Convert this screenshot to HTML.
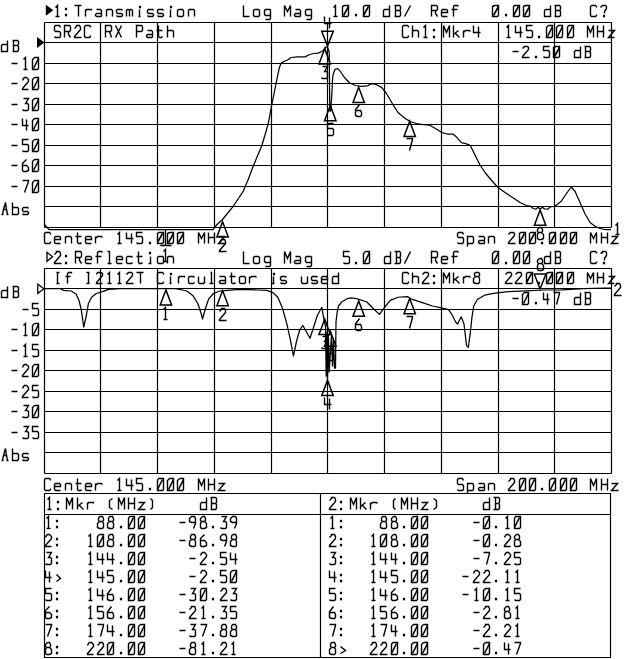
<!DOCTYPE html>
<html><head><meta charset="utf-8"><style>
html,body{margin:0;padding:0;background:#fff;}
svg{display:block;}
path{fill:none;stroke:#000;stroke-width:1.4;}
.g{stroke-width:1.2;}
.f{fill:#000;stroke:none;}
.o{fill:none;stroke:#000;stroke-width:1.3;}
.k{stroke-width:1.6;}
.m{fill:none;stroke:#000;stroke-width:1.5;}
.t{fill:none;stroke:#000;stroke-width:1.25;stroke-linejoin:round;}
</style></head><body>
<svg width="640" height="659" viewBox="0 0 640 659">
<rect width="640" height="659" fill="#fff"/>
<path class="g" d="M44.5,22.5 H611.5 M44.5,42.5 H611.5 M44.5,63.5 H611.5 M44.5,83.5 H611.5 M44.5,104.5 H611.5 M44.5,124.5 H611.5 M44.5,145.5 H611.5 M44.5,165.5 H611.5 M44.5,186.5 H611.5 M44.5,206.5 H611.5 M44.5,227.5 H611.5 M44.5,22.5 V227.5 M100.5,22.5 V227.5 M157.5,22.5 V227.5 M214.5,22.5 V227.5 M271.5,22.5 V227.5 M327.5,22.5 V227.5 M384.5,22.5 V227.5 M441.5,22.5 V227.5 M498.5,22.5 V227.5 M554.5,22.5 V227.5 M611.5,22.5 V227.5 "/>
<path class="g" d="M44.5,268.5 H611.5 M44.5,288.5 H611.5 M44.5,309.5 H611.5 M44.5,329.5 H611.5 M44.5,350.5 H611.5 M44.5,370.5 H611.5 M44.5,391.5 H611.5 M44.5,411.5 H611.5 M44.5,432.5 H611.5 M44.5,452.5 H611.5 M44.5,473.5 H611.5 M44.5,268.5 V473.5 M100.5,268.5 V473.5 M157.5,268.5 V473.5 M214.5,268.5 V473.5 M271.5,268.5 V473.5 M327.5,268.5 V473.5 M384.5,268.5 V473.5 M441.5,268.5 V473.5 M498.5,268.5 V473.5 M554.5,268.5 V473.5 M611.5,268.5 V473.5 "/>
<path d="M55.5,7.5 L57.5,5.5 L57.5,16.5 M55.5,16.5 L59.5,16.5 M74.5,5.5 L81.5,5.5 M78.5,5.5 L78.5,16.5 M85.5,9.5 L85.5,16.5 M85.5,11.5 L86.5,9.5 L91.5,9.5 L91.5,10.5 M96.5,9.5 L100.5,9.5 L101.5,10.5 L101.5,16.5 M101.5,13.5 L96.5,13.5 L95.5,14.5 L95.5,15.5 L96.5,16.5 L101.5,16.5 M106.5,9.5 L106.5,16.5 M106.5,10.5 L107.5,9.5 L111.5,9.5 L112.5,10.5 L112.5,16.5 M122.5,10.5 L121.5,9.5 L117.5,9.5 L116.5,10.5 L116.5,12.5 L117.5,13.5 L121.5,13.5 L122.5,14.5 L122.5,15.5 L121.5,16.5 L117.5,16.5 L116.5,15.5 M126.5,16.5 L126.5,9.5 M126.5,10.5 L127.5,9.5 L128.5,9.5 L129.5,10.5 L129.5,16.5 M129.5,10.5 L130.5,9.5 L131.5,9.5 L132.5,10.5 L132.5,16.5 M139.5,9.5 L139.5,16.5 M138.5,16.5 L140.5,16.5 M153.5,10.5 L152.5,9.5 L148.5,9.5 L147.5,10.5 L147.5,12.5 L148.5,13.5 L152.5,13.5 L153.5,14.5 L153.5,15.5 L152.5,16.5 L148.5,16.5 L147.5,15.5 M163.5,10.5 L162.5,9.5 L158.5,9.5 L157.5,10.5 L157.5,12.5 L158.5,13.5 L162.5,13.5 L163.5,14.5 L163.5,15.5 L162.5,16.5 L158.5,16.5 L157.5,15.5 M170.5,9.5 L170.5,16.5 M169.5,16.5 L171.5,16.5 M178.5,9.5 L182.5,9.5 L183.5,10.5 L183.5,15.5 L182.5,16.5 L178.5,16.5 L177.5,15.5 L177.5,10.5 L178.5,9.5 M188.5,9.5 L188.5,16.5 M188.5,10.5 L189.5,9.5 L193.5,9.5 L194.5,10.5 L194.5,16.5"/><rect class="f" x="64.9" y="7.8" width="2.2" height="2.5"/><rect class="f" x="64.9" y="13.8" width="2.2" height="2.5"/><rect class="f" x="138.9" y="5.8" width="2.2" height="2.5"/><rect class="f" x="169.9" y="5.8" width="2.2" height="2.5"/><path d="M243.5,5.5 L243.5,16.5 L249.5,16.5 M254.5,9.5 L258.5,9.5 L259.5,10.5 L259.5,15.5 L258.5,16.5 L254.5,16.5 L253.5,15.5 L253.5,10.5 L254.5,9.5 M270.5,9.5 L270.5,18.5 L269.5,19.5 L265.5,19.5 M270.5,9.5 L265.5,9.5 L264.5,10.5 L264.5,14.5 L265.5,15.5 L270.5,15.5 M284.5,16.5 L284.5,5.5 L287.5,11.5 L290.5,5.5 L290.5,16.5 M295.5,9.5 L299.5,9.5 L300.5,10.5 L300.5,16.5 M300.5,13.5 L295.5,13.5 L294.5,14.5 L294.5,15.5 L295.5,16.5 L300.5,16.5 M311.5,9.5 L311.5,18.5 L310.5,19.5 L306.5,19.5 M311.5,9.5 L306.5,9.5 L305.5,10.5 L305.5,14.5 L306.5,15.5 L311.5,15.5"/><path d="M333.5,7.5 L335.5,5.5 L335.5,16.5 M333.5,16.5 L337.5,16.5 M344.5,5.5 L348.5,5.5 L348.5,15.5 L347.5,16.5 L342.5,16.5 L342.5,6.5 L344.5,5.5 M364.5,5.5 L369.5,5.5 L369.5,15.5 L368.5,16.5 L363.5,16.5 L363.5,6.5 L364.5,5.5 M389.5,5.5 L389.5,16.5 L383.5,16.5 L383.5,10.5 L384.5,9.5 L389.5,9.5 M394.5,5.5 L399.5,5.5 L400.5,6.5 L400.5,9.5 L399.5,10.5 L395.5,10.5 M399.5,10.5 L400.5,11.5 L400.5,15.5 L399.5,16.5 L394.5,16.5 M395.5,5.5 L395.5,16.5 M404.5,16.5 L410.5,5.5"/><path class="k" d="M343.5,15.5 L348.5,6.5 M363.5,15.5 L368.5,6.5"/><rect class="f" x="354.9" y="13.8" width="2.2" height="2.5"/><path d="M431.5,16.5 L431.5,5.5 L436.5,5.5 L437.5,6.5 L437.5,9.5 L436.5,10.5 L431.5,10.5 M435.5,10.5 L435.5,13.5 L437.5,16.5 M441.5,12.5 L447.5,12.5 L447.5,10.5 L446.5,9.5 L442.5,9.5 L441.5,10.5 L441.5,15.5 L442.5,16.5 L447.5,16.5 M458.5,6.5 L457.5,5.5 L454.5,5.5 L453.5,6.5 L453.5,16.5 M451.5,9.5 L457.5,9.5 M494.5,5.5 L498.5,5.5 L498.5,15.5 L497.5,16.5 L492.5,16.5 L492.5,6.5 L494.5,5.5 M514.5,5.5 L519.5,5.5 L519.5,15.5 L518.5,16.5 L513.5,16.5 L513.5,6.5 L514.5,5.5 M525.5,5.5 L529.5,5.5 L529.5,15.5 L528.5,16.5 L523.5,16.5 L523.5,6.5 L525.5,5.5 M550.5,5.5 L550.5,16.5 L544.5,16.5 L544.5,10.5 L545.5,9.5 L550.5,9.5 M554.5,5.5 L559.5,5.5 L560.5,6.5 L560.5,9.5 L559.5,10.5 L555.5,10.5 M559.5,10.5 L560.5,11.5 L560.5,15.5 L559.5,16.5 L554.5,16.5 M555.5,5.5 L555.5,16.5"/><path class="k" d="M493.5,15.5 L498.5,6.5 M513.5,15.5 L518.5,6.5 M524.5,15.5 L529.5,6.5"/><rect class="f" x="504.9" y="13.8" width="2.2" height="2.5"/><path d="M596.5,7.5 L596.5,6.5 L595.5,5.5 L591.5,5.5 L590.5,6.5 L590.5,15.5 L591.5,16.5 L595.5,16.5 L596.5,15.5 L596.5,14.5 M600.5,7.5 L602.5,5.5 L602.5,5.5 L605.5,5.5 L606.5,6.5 L606.5,8.5 L604.5,11.5 L604.5,13.5"/><rect class="f" x="602.9" y="14.8" width="2.2" height="2.5"/>
<polygon class="f" points="45.8,4.8 45.8,15.8 53.3,10.3"/>
<path d="M54.5,254.5 L56.5,252.5 L56.5,251.5 L59.5,251.5 L60.5,253.5 L60.5,255.5 L54.5,262.5 L54.5,263.5 L61.5,263.5 M75.5,263.5 L75.5,251.5 L80.5,251.5 L81.5,252.5 L81.5,256.5 L80.5,257.5 L75.5,257.5 M79.5,257.5 L79.5,260.5 L81.5,263.5 M85.5,259.5 L91.5,259.5 L91.5,257.5 L90.5,256.5 L86.5,256.5 L85.5,257.5 L85.5,262.5 L86.5,263.5 L91.5,263.5 M102.5,252.5 L101.5,251.5 L98.5,251.5 L97.5,252.5 L97.5,263.5 M95.5,256.5 L101.5,256.5 M107.5,251.5 L109.5,251.5 L109.5,263.5 M107.5,263.5 L111.5,263.5 M116.5,259.5 L122.5,259.5 L122.5,257.5 L121.5,256.5 L117.5,256.5 L116.5,257.5 L116.5,262.5 L117.5,263.5 L122.5,263.5 M132.5,257.5 L131.5,256.5 L127.5,256.5 L126.5,257.5 L126.5,262.5 L127.5,263.5 L131.5,263.5 L132.5,262.5 M138.5,251.5 L138.5,262.5 L139.5,263.5 L141.5,263.5 L142.5,262.5 M136.5,256.5 L142.5,256.5 M150.5,256.5 L150.5,263.5 M148.5,263.5 L151.5,263.5 M158.5,256.5 L162.5,256.5 L163.5,257.5 L163.5,262.5 L162.5,263.5 L158.5,263.5 L157.5,262.5 L157.5,257.5 L158.5,256.5 M167.5,256.5 L167.5,263.5 M167.5,257.5 L168.5,256.5 L172.5,256.5 L173.5,257.5 L173.5,263.5"/><rect class="f" x="64.9" y="254.8" width="2.2" height="2.5"/><rect class="f" x="64.9" y="261.8" width="2.2" height="2.5"/><rect class="f" x="148.9" y="251.8" width="2.2" height="2.5"/><path d="M243.5,251.5 L243.5,263.5 L249.5,263.5 M254.5,256.5 L258.5,256.5 L259.5,257.5 L259.5,262.5 L258.5,263.5 L254.5,263.5 L253.5,262.5 L253.5,257.5 L254.5,256.5 M270.5,256.5 L270.5,265.5 L269.5,266.5 L265.5,266.5 M270.5,256.5 L265.5,256.5 L264.5,257.5 L264.5,261.5 L265.5,262.5 L270.5,262.5 M284.5,263.5 L284.5,251.5 L287.5,258.5 L290.5,251.5 L290.5,263.5 M295.5,256.5 L299.5,256.5 L300.5,257.5 L300.5,263.5 M300.5,260.5 L295.5,260.5 L294.5,261.5 L294.5,262.5 L295.5,263.5 L300.5,263.5 M311.5,256.5 L311.5,265.5 L310.5,266.5 L306.5,266.5 M311.5,256.5 L306.5,256.5 L305.5,257.5 L305.5,261.5 L306.5,262.5 L311.5,262.5"/><path d="M349.5,251.5 L343.5,251.5 L343.5,256.5 L348.5,256.5 L349.5,257.5 L349.5,262.5 L348.5,263.5 L344.5,263.5 L343.5,262.5 M365.5,251.5 L369.5,251.5 L369.5,262.5 L368.5,263.5 L363.5,263.5 L363.5,253.5 L365.5,251.5 M390.5,251.5 L390.5,263.5 L384.5,263.5 L384.5,257.5 L385.5,256.5 L390.5,256.5 M394.5,251.5 L399.5,251.5 L400.5,252.5 L400.5,256.5 L399.5,257.5 L396.5,257.5 M399.5,257.5 L400.5,258.5 L400.5,262.5 L399.5,263.5 L394.5,263.5 M396.5,251.5 L396.5,263.5 M404.5,263.5 L410.5,251.5"/><path class="k" d="M364.5,262.5 L369.5,252.5"/><rect class="f" x="354.9" y="261.8" width="2.2" height="2.5"/><path d="M431.5,263.5 L431.5,251.5 L436.5,251.5 L437.5,252.5 L437.5,256.5 L436.5,257.5 L431.5,257.5 M435.5,257.5 L435.5,260.5 L437.5,263.5 M441.5,259.5 L447.5,259.5 L447.5,257.5 L446.5,256.5 L442.5,256.5 L441.5,257.5 L441.5,262.5 L442.5,263.5 L447.5,263.5 M458.5,252.5 L457.5,251.5 L454.5,251.5 L453.5,252.5 L453.5,263.5 M451.5,256.5 L457.5,256.5 M494.5,251.5 L498.5,251.5 L498.5,262.5 L497.5,263.5 L492.5,263.5 L492.5,253.5 L494.5,251.5 M514.5,251.5 L519.5,251.5 L519.5,262.5 L518.5,263.5 L513.5,263.5 L513.5,253.5 L514.5,251.5 M525.5,251.5 L529.5,251.5 L529.5,262.5 L528.5,263.5 L523.5,263.5 L523.5,253.5 L525.5,251.5 M550.5,251.5 L550.5,263.5 L544.5,263.5 L544.5,257.5 L545.5,256.5 L550.5,256.5 M554.5,251.5 L559.5,251.5 L560.5,252.5 L560.5,256.5 L559.5,257.5 L555.5,257.5 M559.5,257.5 L560.5,258.5 L560.5,262.5 L559.5,263.5 L554.5,263.5 M555.5,251.5 L555.5,263.5"/><path class="k" d="M493.5,262.5 L498.5,252.5 M513.5,262.5 L518.5,252.5 M524.5,262.5 L529.5,252.5"/><rect class="f" x="504.9" y="261.8" width="2.2" height="2.5"/><path d="M596.5,253.5 L596.5,252.5 L595.5,251.5 L591.5,251.5 L590.5,252.5 L590.5,262.5 L591.5,263.5 L595.5,263.5 L596.5,262.5 L596.5,261.5 M600.5,253.5 L602.5,252.5 L602.5,251.5 L605.5,251.5 L606.5,252.5 L606.5,255.5 L604.5,258.5 L604.5,260.5"/><rect class="f" x="602.9" y="261.8" width="2.2" height="2.5"/>
<polygon class="o" points="47,252.3 47,261.3 52.5,256.8"/>
<path d="M60.5,27.5 L59.5,25.5 L55.5,25.5 L54.5,26.5 L54.5,30.5 L55.5,31.5 L59.5,31.5 L60.5,32.5 L60.5,36.5 L59.5,37.5 L55.5,37.5 L54.5,36.5 M64.5,37.5 L64.5,25.5 L69.5,25.5 L70.5,26.5 L70.5,30.5 L69.5,31.5 L64.5,31.5 M68.5,31.5 L68.5,34.5 L70.5,37.5 M74.5,28.5 L76.5,26.5 L76.5,25.5 L79.5,25.5 L80.5,27.5 L80.5,29.5 L74.5,36.5 L74.5,37.5 L81.5,37.5 M90.5,27.5 L90.5,26.5 L89.5,25.5 L85.5,25.5 L84.5,26.5 L84.5,36.5 L85.5,37.5 L89.5,37.5 L90.5,36.5 L90.5,35.5 M105.5,37.5 L105.5,25.5 L110.5,25.5 L111.5,26.5 L111.5,30.5 L110.5,31.5 L105.5,31.5 M109.5,31.5 L110.5,34.5 L111.5,37.5 M115.5,25.5 L121.5,37.5 M121.5,25.5 L115.5,37.5 M136.5,37.5 L136.5,25.5 L141.5,25.5 L142.5,26.5 L142.5,30.5 L141.5,31.5 L136.5,31.5 M147.5,30.5 L151.5,30.5 L152.5,31.5 L152.5,37.5 M152.5,34.5 L147.5,34.5 L146.5,35.5 L146.5,36.5 L147.5,37.5 L152.5,37.5 M158.5,25.5 L158.5,36.5 L159.5,37.5 L161.5,37.5 L162.5,36.5 M156.5,30.5 L162.5,30.5 M167.5,25.5 L167.5,37.5 M167.5,31.5 L168.5,30.5 L172.5,30.5 L173.5,31.5 L173.5,37.5"/>
<path d="M408.5,27.5 L408.5,26.5 L407.5,25.5 L403.5,25.5 L402.5,26.5 L402.5,36.5 L403.5,37.5 L407.5,37.5 L408.5,36.5 L408.5,35.5 M412.5,25.5 L412.5,37.5 M412.5,31.5 L413.5,30.5 L417.5,30.5 L418.5,31.5 L418.5,37.5 M423.5,27.5 L425.5,25.5 L425.5,37.5 M423.5,37.5 L427.5,37.5 M443.5,37.5 L443.5,25.5 L446.5,32.5 L449.5,25.5 L449.5,37.5 M453.5,25.5 L453.5,37.5 M458.5,30.5 L453.5,34.5 M455.5,33.5 L459.5,37.5 M463.5,30.5 L463.5,37.5 M463.5,32.5 L465.5,30.5 L469.5,30.5 L470.5,31.5 M473.5,25.5 L473.5,32.5 L480.5,32.5 M478.5,26.5 L478.5,37.5"/><rect class="f" x="432.9" y="28.8" width="2.2" height="2.5"/><rect class="f" x="432.9" y="35.8" width="2.2" height="2.5"/>
<path d="M506.5,27.5 L508.5,25.5 L508.5,37.5 M506.5,37.5 L510.5,37.5 M515.5,25.5 L515.5,32.5 L522.5,32.5 M520.5,26.5 L520.5,37.5 M532.5,25.5 L526.5,25.5 L526.5,30.5 L531.5,30.5 L532.5,31.5 L532.5,36.5 L531.5,37.5 L527.5,37.5 L526.5,36.5 M548.5,25.5 L552.5,25.5 L552.5,36.5 L551.5,37.5 L546.5,37.5 L546.5,27.5 L548.5,25.5 M558.5,25.5 L562.5,25.5 L562.5,36.5 L561.5,37.5 L556.5,37.5 L556.5,27.5 L558.5,25.5 M568.5,25.5 L573.5,25.5 L573.5,36.5 L572.5,37.5 L567.5,37.5 L567.5,27.5 L568.5,25.5 M587.5,37.5 L587.5,25.5 L590.5,32.5 L593.5,25.5 L593.5,37.5 M597.5,25.5 L597.5,37.5 M603.5,25.5 L603.5,37.5 M597.5,31.5 L603.5,31.5 M608.5,30.5 L614.5,30.5 L608.5,37.5 L614.5,37.5"/><path class="k" d="M547.5,36.5 L552.5,26.5 M557.5,36.5 L562.5,26.5 M567.5,36.5 L572.5,26.5"/><rect class="f" x="537.9" y="35.8" width="2.2" height="2.5"/>
<path d="M512.5,51.5 L518.5,51.5 M522.5,48.5 L524.5,46.5 L524.5,46.5 L527.5,46.5 L528.5,47.5 L528.5,49.5 L522.5,56.5 L522.5,57.5 L529.5,57.5 M549.5,46.5 L543.5,46.5 L543.5,50.5 L548.5,50.5 L549.5,51.5 L549.5,56.5 L548.5,57.5 L544.5,57.5 L543.5,56.5 M555.5,46.5 L559.5,46.5 L559.5,56.5 L558.5,57.5 L553.5,57.5 L553.5,47.5 L555.5,46.5 M580.5,46.5 L580.5,57.5 L574.5,57.5 L574.5,51.5 L575.5,50.5 L580.5,50.5 M584.5,46.5 L589.5,46.5 L590.5,47.5 L590.5,50.5 L589.5,51.5 L585.5,51.5 M589.5,51.5 L590.5,52.5 L590.5,56.5 L589.5,57.5 L584.5,57.5 M585.5,46.5 L585.5,57.5"/><path class="k" d="M554.5,56.5 L559.5,47.5"/><rect class="f" x="534.9" y="55.8" width="2.2" height="2.5"/>
<path d="M56.5,272.5 L59.5,272.5 M57.5,272.5 L57.5,283.5 M56.5,283.5 L59.5,283.5 M71.5,273.5 L71.5,272.5 L68.5,272.5 L67.5,273.5 L67.5,283.5 M65.5,276.5 L70.5,276.5 M86.5,272.5 L89.5,272.5 M88.5,272.5 L88.5,283.5 M86.5,283.5 L89.5,283.5 M96.5,274.5 L97.5,272.5 L98.5,272.5 L100.5,272.5 L102.5,273.5 L102.5,275.5 L96.5,282.5 L96.5,283.5 L102.5,283.5 M107.5,274.5 L109.5,272.5 L109.5,283.5 M107.5,283.5 L111.5,283.5 M117.5,274.5 L119.5,272.5 L119.5,283.5 M117.5,283.5 L121.5,283.5 M126.5,274.5 L128.5,272.5 L128.5,272.5 L131.5,272.5 L132.5,273.5 L132.5,275.5 L126.5,282.5 L126.5,283.5 L133.5,283.5 M136.5,272.5 L143.5,272.5 M140.5,272.5 L140.5,283.5 M163.5,274.5 L163.5,273.5 L162.5,272.5 L158.5,272.5 L157.5,273.5 L157.5,282.5 L158.5,283.5 L162.5,283.5 L163.5,282.5 L163.5,281.5 M170.5,276.5 L170.5,283.5 M169.5,283.5 L171.5,283.5 M178.5,276.5 L178.5,283.5 M178.5,278.5 L179.5,276.5 L184.5,276.5 L184.5,277.5 M194.5,277.5 L193.5,276.5 L189.5,276.5 L188.5,277.5 L188.5,282.5 L189.5,283.5 L193.5,283.5 L194.5,282.5 M198.5,276.5 L198.5,282.5 L199.5,283.5 L203.5,283.5 L204.5,282.5 M204.5,276.5 L204.5,283.5 M210.5,272.5 L211.5,272.5 L211.5,283.5 M209.5,283.5 L213.5,283.5 M219.5,276.5 L224.5,276.5 L225.5,277.5 L225.5,283.5 M225.5,280.5 L220.5,280.5 L219.5,281.5 L219.5,282.5 L220.5,283.5 L225.5,283.5 M231.5,272.5 L231.5,282.5 L232.5,283.5 L234.5,283.5 L235.5,282.5 M229.5,276.5 L235.5,276.5 M240.5,276.5 L244.5,276.5 L245.5,277.5 L245.5,282.5 L244.5,283.5 L240.5,283.5 L239.5,282.5 L239.5,277.5 L240.5,276.5 M249.5,276.5 L249.5,283.5 M249.5,278.5 L251.5,276.5 L255.5,276.5 L256.5,277.5 M273.5,276.5 L273.5,283.5 M271.5,283.5 L274.5,283.5 M286.5,277.5 L285.5,276.5 L281.5,276.5 L280.5,277.5 L280.5,279.5 L281.5,280.5 L285.5,280.5 L286.5,281.5 L286.5,282.5 L285.5,283.5 L281.5,283.5 L280.5,282.5 M301.5,276.5 L301.5,282.5 L302.5,283.5 L306.5,283.5 L307.5,282.5 M307.5,276.5 L307.5,283.5 M317.5,277.5 L316.5,276.5 L312.5,276.5 L311.5,277.5 L311.5,279.5 L312.5,280.5 L316.5,280.5 L317.5,281.5 L317.5,282.5 L316.5,283.5 L312.5,283.5 L311.5,282.5 M321.5,279.5 L327.5,279.5 L327.5,277.5 L326.5,276.5 L322.5,276.5 L321.5,277.5 L321.5,282.5 L322.5,283.5 L327.5,283.5 M338.5,272.5 L338.5,283.5 L332.5,283.5 L332.5,277.5 L333.5,276.5 L338.5,276.5"/><rect class="f" x="169.9" y="272.8" width="2.2" height="2.5"/><rect class="f" x="272.9" y="272.8" width="2.2" height="2.5"/>
<path d="M408.5,274.5 L408.5,273.5 L407.5,272.5 L403.5,272.5 L402.5,273.5 L402.5,282.5 L403.5,283.5 L407.5,283.5 L408.5,282.5 L408.5,281.5 M412.5,272.5 L412.5,283.5 M412.5,277.5 L413.5,276.5 L417.5,276.5 L418.5,277.5 L418.5,283.5 M422.5,274.5 L424.5,272.5 L424.5,272.5 L427.5,272.5 L428.5,273.5 L428.5,275.5 L422.5,282.5 L422.5,283.5 L429.5,283.5 M443.5,283.5 L443.5,272.5 L446.5,278.5 L449.5,272.5 L449.5,283.5 M453.5,272.5 L453.5,283.5 M458.5,276.5 L453.5,280.5 M455.5,279.5 L459.5,283.5 M463.5,276.5 L463.5,283.5 M463.5,278.5 L465.5,276.5 L469.5,276.5 L470.5,277.5 M475.5,272.5 L478.5,272.5 L479.5,273.5 L479.5,275.5 L478.5,276.5 L475.5,276.5 L474.5,275.5 L474.5,273.5 L475.5,272.5 M475.5,276.5 L473.5,278.5 L473.5,282.5 L475.5,283.5 L478.5,283.5 L479.5,282.5 L479.5,278.5 L478.5,276.5"/><rect class="f" x="432.9" y="274.8" width="2.2" height="2.5"/><rect class="f" x="432.9" y="281.8" width="2.2" height="2.5"/>
<path d="M505.5,274.5 L507.5,272.5 L507.5,272.5 L510.5,272.5 L511.5,273.5 L511.5,275.5 L505.5,282.5 L505.5,283.5 L512.5,283.5 M515.5,274.5 L517.5,272.5 L517.5,272.5 L520.5,272.5 L521.5,273.5 L521.5,275.5 L515.5,282.5 L515.5,283.5 L522.5,283.5 M527.5,272.5 L532.5,272.5 L532.5,282.5 L531.5,283.5 L526.5,283.5 L526.5,273.5 L527.5,272.5 M548.5,272.5 L552.5,272.5 L552.5,282.5 L551.5,283.5 L546.5,283.5 L546.5,273.5 L548.5,272.5 M558.5,272.5 L562.5,272.5 L562.5,282.5 L561.5,283.5 L556.5,283.5 L556.5,273.5 L558.5,272.5 M568.5,272.5 L573.5,272.5 L573.5,282.5 L572.5,283.5 L567.5,283.5 L567.5,273.5 L568.5,272.5 M587.5,283.5 L587.5,272.5 L590.5,278.5 L593.5,272.5 L593.5,283.5 M597.5,272.5 L597.5,283.5 M603.5,272.5 L603.5,283.5 M597.5,277.5 L603.5,277.5 M608.5,276.5 L614.5,276.5 L608.5,283.5 L614.5,283.5"/><path class="k" d="M526.5,282.5 L531.5,273.5 M547.5,282.5 L552.5,273.5 M557.5,282.5 L562.5,273.5 M567.5,282.5 L572.5,273.5"/><rect class="f" x="537.9" y="281.8" width="2.2" height="2.5"/>
<path d="M512.5,298.5 L518.5,298.5 M524.5,292.5 L528.5,292.5 L528.5,303.5 L527.5,304.5 L522.5,304.5 L522.5,294.5 L524.5,292.5 M543.5,292.5 L543.5,299.5 L549.5,299.5 M547.5,293.5 L547.5,304.5 M553.5,292.5 L559.5,292.5 L559.5,293.5 L556.5,304.5 M580.5,292.5 L580.5,304.5 L574.5,304.5 L574.5,298.5 L575.5,297.5 L580.5,297.5 M584.5,292.5 L589.5,292.5 L590.5,293.5 L590.5,297.5 L589.5,298.5 L585.5,298.5 M589.5,298.5 L590.5,299.5 L590.5,303.5 L589.5,304.5 L584.5,304.5 M585.5,292.5 L585.5,304.5"/><path class="k" d="M523.5,303.5 L528.5,293.5"/><rect class="f" x="534.9" y="301.8" width="2.2" height="2.5"/>
<path d="M7.5,40.5 L7.5,51.5 L1.5,51.5 L1.5,45.5 L2.5,44.5 L7.5,44.5 M12.5,40.5 L17.5,40.5 L18.5,41.5 L18.5,44.5 L17.5,45.5 L13.5,45.5 M17.5,45.5 L18.5,46.5 L18.5,50.5 L17.5,51.5 L12.5,51.5 M13.5,40.5 L13.5,51.5"/>
<path d="M11.5,63.5 L17.5,63.5 M23.5,59.5 L25.5,57.5 L25.5,69.5 M23.5,69.5 L27.5,69.5 M34.5,57.5 L38.5,57.5 L38.5,68.5 L37.5,69.5 L32.5,69.5 L32.5,59.5 L34.5,57.5"/><path class="k" d="M33.5,68.5 L38.5,58.5"/>
<path d="M11.5,83.5 L17.5,83.5 M22.5,80.5 L23.5,78.5 L24.5,77.5 L26.5,77.5 L28.5,79.5 L28.5,81.5 L22.5,88.5 L22.5,89.5 L28.5,89.5 M34.5,77.5 L38.5,77.5 L38.5,88.5 L37.5,89.5 L32.5,89.5 L32.5,79.5 L34.5,77.5"/><path class="k" d="M33.5,88.5 L38.5,78.5"/>
<path d="M11.5,104.5 L17.5,104.5 M23.5,98.5 L28.5,98.5 L25.5,103.5 L27.5,103.5 L28.5,104.5 L28.5,109.5 L27.5,110.5 L23.5,110.5 L22.5,109.5 M34.5,98.5 L38.5,98.5 L38.5,109.5 L37.5,110.5 L32.5,110.5 L32.5,100.5 L34.5,98.5"/><path class="k" d="M33.5,109.5 L38.5,99.5"/>
<path d="M11.5,124.5 L17.5,124.5 M22.5,118.5 L22.5,125.5 L28.5,125.5 M26.5,119.5 L26.5,130.5 M34.5,118.5 L38.5,118.5 L38.5,129.5 L37.5,130.5 L32.5,130.5 L32.5,120.5 L34.5,118.5"/><path class="k" d="M33.5,129.5 L38.5,119.5"/>
<path d="M11.5,145.5 L17.5,145.5 M28.5,139.5 L22.5,139.5 L22.5,144.5 L27.5,144.5 L28.5,145.5 L28.5,150.5 L27.5,151.5 L23.5,151.5 L22.5,150.5 M34.5,139.5 L38.5,139.5 L38.5,150.5 L37.5,151.5 L32.5,151.5 L32.5,141.5 L34.5,139.5"/><path class="k" d="M33.5,150.5 L38.5,140.5"/>
<path d="M11.5,165.5 L17.5,165.5 M26.5,159.5 L22.5,163.5 L22.5,164.5 L22.5,170.5 L23.5,171.5 L26.5,171.5 L28.5,170.5 L28.5,167.5 L26.5,165.5 L22.5,165.5 M34.5,159.5 L38.5,159.5 L38.5,170.5 L37.5,171.5 L32.5,171.5 L32.5,161.5 L34.5,159.5"/><path class="k" d="M33.5,170.5 L38.5,160.5"/>
<path d="M11.5,186.5 L17.5,186.5 M22.5,180.5 L28.5,180.5 L28.5,181.5 L24.5,192.5 M34.5,180.5 L38.5,180.5 L38.5,191.5 L37.5,192.5 L32.5,192.5 L32.5,182.5 L34.5,180.5"/><path class="k" d="M33.5,191.5 L38.5,181.5"/>
<path d="M2.5,214.5 L3.5,209.5 L5.5,202.5 L6.5,209.5 L7.5,214.5 M3.5,209.5 L6.5,209.5 M1.5,214.5 L3.5,214.5 M6.5,214.5 L8.5,214.5 M12.5,202.5 L12.5,214.5 L17.5,214.5 L18.5,213.5 L18.5,208.5 L17.5,207.5 L12.5,207.5 M28.5,208.5 L27.5,207.5 L23.5,207.5 L22.5,208.5 L22.5,210.5 L23.5,211.5 L27.5,211.5 L28.5,212.5 L28.5,213.5 L27.5,214.5 L23.5,214.5 L22.5,213.5"/>
<polygon class="f" points="37,37 37,48 44.5,42.5"/>
<path d="M7.5,286.5 L7.5,297.5 L1.5,297.5 L1.5,291.5 L2.5,290.5 L7.5,290.5 M12.5,286.5 L17.5,286.5 L18.5,287.5 L18.5,290.5 L17.5,291.5 L13.5,291.5 M17.5,291.5 L18.5,292.5 L18.5,296.5 L17.5,297.5 L12.5,297.5 M13.5,286.5 L13.5,297.5"/>
<path d="M22.5,309.5 L28.5,309.5 M38.5,303.5 L32.5,303.5 L32.5,308.5 L37.5,308.5 L38.5,309.5 L38.5,314.5 L37.5,315.5 L33.5,315.5 L32.5,314.5"/>
<path d="M11.5,329.5 L17.5,329.5 M23.5,325.5 L25.5,323.5 L25.5,335.5 M23.5,335.5 L27.5,335.5 M34.5,323.5 L38.5,323.5 L38.5,334.5 L37.5,335.5 L32.5,335.5 L32.5,325.5 L34.5,323.5"/><path class="k" d="M33.5,334.5 L38.5,324.5"/>
<path d="M11.5,350.5 L17.5,350.5 M23.5,346.5 L25.5,344.5 L25.5,356.5 M23.5,356.5 L27.5,356.5 M38.5,344.5 L32.5,344.5 L32.5,349.5 L37.5,349.5 L38.5,350.5 L38.5,355.5 L37.5,356.5 L33.5,356.5 L32.5,355.5"/>
<path d="M11.5,370.5 L17.5,370.5 M22.5,367.5 L23.5,365.5 L24.5,364.5 L26.5,364.5 L28.5,366.5 L28.5,368.5 L22.5,375.5 L22.5,376.5 L28.5,376.5 M34.5,364.5 L38.5,364.5 L38.5,375.5 L37.5,376.5 L32.5,376.5 L32.5,366.5 L34.5,364.5"/><path class="k" d="M33.5,375.5 L38.5,365.5"/>
<path d="M11.5,391.5 L17.5,391.5 M22.5,388.5 L23.5,386.5 L24.5,385.5 L26.5,385.5 L28.5,387.5 L28.5,389.5 L22.5,396.5 L22.5,397.5 L28.5,397.5 M38.5,385.5 L32.5,385.5 L32.5,390.5 L37.5,390.5 L38.5,391.5 L38.5,396.5 L37.5,397.5 L33.5,397.5 L32.5,396.5"/>
<path d="M11.5,411.5 L17.5,411.5 M23.5,405.5 L28.5,405.5 L25.5,410.5 L27.5,410.5 L28.5,411.5 L28.5,416.5 L27.5,417.5 L23.5,417.5 L22.5,416.5 M34.5,405.5 L38.5,405.5 L38.5,416.5 L37.5,417.5 L32.5,417.5 L32.5,407.5 L34.5,405.5"/><path class="k" d="M33.5,416.5 L38.5,406.5"/>
<path d="M11.5,432.5 L17.5,432.5 M23.5,426.5 L28.5,426.5 L25.5,431.5 L27.5,431.5 L28.5,432.5 L28.5,437.5 L27.5,438.5 L23.5,438.5 L22.5,437.5 M38.5,426.5 L32.5,426.5 L32.5,431.5 L37.5,431.5 L38.5,432.5 L38.5,437.5 L37.5,438.5 L33.5,438.5 L32.5,437.5"/>
<path d="M2.5,460.5 L3.5,455.5 L5.5,448.5 L6.5,455.5 L7.5,460.5 M3.5,455.5 L6.5,455.5 M1.5,460.5 L3.5,460.5 M6.5,460.5 L8.5,460.5 M12.5,448.5 L12.5,460.5 L17.5,460.5 L18.5,459.5 L18.5,454.5 L17.5,453.5 L12.5,453.5 M28.5,454.5 L27.5,453.5 L23.5,453.5 L22.5,454.5 L22.5,456.5 L23.5,457.5 L27.5,457.5 L28.5,458.5 L28.5,459.5 L27.5,460.5 L23.5,460.5 L22.5,459.5"/>
<polygon class="o" points="37.8,284 37.8,293.5 43.8,288.75"/>
<path d="M50.5,234.5 L50.5,233.5 L49.5,232.5 L45.5,232.5 L44.5,233.5 L44.5,242.5 L45.5,243.5 L49.5,243.5 L50.5,242.5 L50.5,241.5 M54.5,239.5 L60.5,239.5 L60.5,237.5 L59.5,236.5 L55.5,236.5 L54.5,237.5 L54.5,242.5 L55.5,243.5 L60.5,243.5 M65.5,236.5 L65.5,243.5 M65.5,237.5 L66.5,236.5 L70.5,236.5 L71.5,237.5 L71.5,243.5 M77.5,232.5 L77.5,242.5 L78.5,243.5 L80.5,243.5 L81.5,242.5 M75.5,236.5 L81.5,236.5 M85.5,239.5 L91.5,239.5 L91.5,237.5 L90.5,236.5 L86.5,236.5 L85.5,237.5 L85.5,242.5 L86.5,243.5 L91.5,243.5 M95.5,236.5 L95.5,243.5 M95.5,238.5 L97.5,236.5 L101.5,236.5 L102.5,237.5 M117.5,234.5 L119.5,232.5 L119.5,243.5 M117.5,243.5 L121.5,243.5 M126.5,232.5 L126.5,238.5 L133.5,238.5 M131.5,233.5 L131.5,243.5 M142.5,232.5 L136.5,232.5 L136.5,236.5 L141.5,236.5 L142.5,237.5 L142.5,242.5 L141.5,243.5 L137.5,243.5 L136.5,242.5 M158.5,232.5 L163.5,232.5 L163.5,242.5 L162.5,243.5 L157.5,243.5 L157.5,233.5 L158.5,232.5 M169.5,232.5 L173.5,232.5 L173.5,242.5 L172.5,243.5 L167.5,243.5 L167.5,233.5 L169.5,232.5 M179.5,232.5 L183.5,232.5 L183.5,242.5 L182.5,243.5 L177.5,243.5 L177.5,233.5 L179.5,232.5 M198.5,243.5 L198.5,232.5 L201.5,238.5 L204.5,232.5 L204.5,243.5 M208.5,232.5 L208.5,243.5 M214.5,232.5 L214.5,243.5 M208.5,237.5 L214.5,237.5 M218.5,236.5 L224.5,236.5 L218.5,243.5 L225.5,243.5"/><path class="k" d="M157.5,242.5 L162.5,233.5 M168.5,242.5 L173.5,233.5 M178.5,242.5 L183.5,233.5"/><rect class="f" x="148.9" y="241.8" width="2.2" height="2.5"/>
<path d="M463.5,234.5 L462.5,232.5 L458.5,232.5 L457.5,233.5 L457.5,236.5 L458.5,237.5 L462.5,237.5 L463.5,238.5 L463.5,242.5 L462.5,243.5 L458.5,243.5 L457.5,242.5 M467.5,246.5 L467.5,236.5 L472.5,236.5 L473.5,237.5 L473.5,242.5 L472.5,243.5 L467.5,243.5 M478.5,236.5 L483.5,236.5 L484.5,237.5 L484.5,243.5 M484.5,240.5 L479.5,240.5 L478.5,241.5 L478.5,242.5 L479.5,243.5 L484.5,243.5 M488.5,236.5 L488.5,243.5 M488.5,237.5 L489.5,236.5 L493.5,236.5 L494.5,237.5 L494.5,243.5 M508.5,234.5 L510.5,232.5 L510.5,232.5 L513.5,232.5 L514.5,233.5 L514.5,235.5 L508.5,242.5 L508.5,243.5 L515.5,243.5 M520.5,232.5 L525.5,232.5 L525.5,242.5 L524.5,243.5 L519.5,243.5 L519.5,233.5 L520.5,232.5 M530.5,232.5 L535.5,232.5 L535.5,242.5 L534.5,243.5 L529.5,243.5 L529.5,233.5 L530.5,232.5 M551.5,232.5 L555.5,232.5 L555.5,242.5 L554.5,243.5 L549.5,243.5 L549.5,233.5 L551.5,232.5 M561.5,232.5 L566.5,232.5 L566.5,242.5 L565.5,243.5 L560.5,243.5 L560.5,233.5 L561.5,232.5 M571.5,232.5 L576.5,232.5 L576.5,242.5 L575.5,243.5 L570.5,243.5 L570.5,233.5 L571.5,232.5 M590.5,243.5 L590.5,232.5 L593.5,238.5 L596.5,232.5 L596.5,243.5 M601.5,232.5 L601.5,243.5 M607.5,232.5 L607.5,243.5 M601.5,237.5 L607.5,237.5 M611.5,236.5 L617.5,236.5 L611.5,243.5 L618.5,243.5"/><path class="k" d="M519.5,242.5 L524.5,233.5 M529.5,242.5 L534.5,233.5 M550.5,242.5 L555.5,233.5 M560.5,242.5 L565.5,233.5 M570.5,242.5 L575.5,233.5"/><rect class="f" x="540.9" y="241.8" width="2.2" height="2.5"/>
<path d="M50.5,480.5 L50.5,479.5 L49.5,478.5 L45.5,478.5 L44.5,479.5 L44.5,489.5 L45.5,490.5 L49.5,490.5 L50.5,489.5 L50.5,488.5 M54.5,486.5 L60.5,486.5 L60.5,484.5 L59.5,483.5 L55.5,483.5 L54.5,484.5 L54.5,489.5 L55.5,490.5 L60.5,490.5 M65.5,483.5 L65.5,490.5 M65.5,484.5 L66.5,483.5 L70.5,483.5 L71.5,484.5 L71.5,490.5 M77.5,478.5 L77.5,489.5 L78.5,490.5 L80.5,490.5 L81.5,489.5 M75.5,483.5 L81.5,483.5 M85.5,486.5 L91.5,486.5 L91.5,484.5 L90.5,483.5 L86.5,483.5 L85.5,484.5 L85.5,489.5 L86.5,490.5 L91.5,490.5 M95.5,483.5 L95.5,490.5 M95.5,485.5 L97.5,483.5 L101.5,483.5 L102.5,484.5 M117.5,480.5 L119.5,478.5 L119.5,490.5 M117.5,490.5 L121.5,490.5 M126.5,478.5 L126.5,485.5 L133.5,485.5 M131.5,479.5 L131.5,490.5 M142.5,478.5 L136.5,478.5 L136.5,483.5 L141.5,483.5 L142.5,484.5 L142.5,489.5 L141.5,490.5 L137.5,490.5 L136.5,489.5 M158.5,478.5 L163.5,478.5 L163.5,489.5 L162.5,490.5 L157.5,490.5 L157.5,480.5 L158.5,478.5 M169.5,478.5 L173.5,478.5 L173.5,489.5 L172.5,490.5 L167.5,490.5 L167.5,480.5 L169.5,478.5 M179.5,478.5 L183.5,478.5 L183.5,489.5 L182.5,490.5 L177.5,490.5 L177.5,480.5 L179.5,478.5 M198.5,490.5 L198.5,478.5 L201.5,485.5 L204.5,478.5 L204.5,490.5 M208.5,478.5 L208.5,490.5 M214.5,478.5 L214.5,490.5 M208.5,484.5 L214.5,484.5 M218.5,483.5 L224.5,483.5 L218.5,490.5 L225.5,490.5"/><path class="k" d="M157.5,489.5 L162.5,479.5 M168.5,489.5 L173.5,479.5 M178.5,489.5 L183.5,479.5"/><rect class="f" x="148.9" y="487.8" width="2.2" height="2.5"/>
<path d="M463.5,480.5 L462.5,478.5 L458.5,478.5 L457.5,479.5 L457.5,483.5 L458.5,484.5 L462.5,484.5 L463.5,485.5 L463.5,489.5 L462.5,490.5 L458.5,490.5 L457.5,489.5 M467.5,493.5 L467.5,483.5 L472.5,483.5 L473.5,484.5 L473.5,489.5 L472.5,490.5 L467.5,490.5 M478.5,483.5 L483.5,483.5 L484.5,484.5 L484.5,490.5 M484.5,487.5 L479.5,487.5 L478.5,488.5 L478.5,489.5 L479.5,490.5 L484.5,490.5 M488.5,483.5 L488.5,490.5 M488.5,484.5 L489.5,483.5 L493.5,483.5 L494.5,484.5 L494.5,490.5 M508.5,481.5 L510.5,479.5 L510.5,478.5 L513.5,478.5 L514.5,480.5 L514.5,482.5 L508.5,489.5 L508.5,490.5 L515.5,490.5 M520.5,478.5 L525.5,478.5 L525.5,489.5 L524.5,490.5 L519.5,490.5 L519.5,480.5 L520.5,478.5 M530.5,478.5 L535.5,478.5 L535.5,489.5 L534.5,490.5 L529.5,490.5 L529.5,480.5 L530.5,478.5 M551.5,478.5 L555.5,478.5 L555.5,489.5 L554.5,490.5 L549.5,490.5 L549.5,480.5 L551.5,478.5 M561.5,478.5 L566.5,478.5 L566.5,489.5 L565.5,490.5 L560.5,490.5 L560.5,480.5 L561.5,478.5 M571.5,478.5 L576.5,478.5 L576.5,489.5 L575.5,490.5 L570.5,490.5 L570.5,480.5 L571.5,478.5 M590.5,490.5 L590.5,478.5 L593.5,485.5 L596.5,478.5 L596.5,490.5 M601.5,478.5 L601.5,490.5 M607.5,478.5 L607.5,490.5 M601.5,484.5 L607.5,484.5 M611.5,483.5 L617.5,483.5 L611.5,490.5 L618.5,490.5"/><path class="k" d="M519.5,489.5 L524.5,479.5 M529.5,489.5 L534.5,479.5 M550.5,489.5 L555.5,479.5 M560.5,489.5 L565.5,479.5 M570.5,489.5 L575.5,479.5"/><rect class="f" x="540.9" y="487.8" width="2.2" height="2.5"/>
<polyline class="t" points="44.5,224.5 49,229.5 213,229.5 217,224.5 222,220 227,214 233,206.7 238,199 243,191.7 248,180 253,166.7 257,157 261.5,146.5 265,135 268.3,123.3 271.25,107.5 276.25,82.5 279.4,67.5 281.25,63.1 283.75,61.5 287.5,60 291.25,57.5 297.5,56.9 305,56.9 308.75,55 312.5,53.75 318,53.1 322.5,51.25 326,47 327.5,47 329.2,52 329.8,111 330.6,111 331.8,95 332.5,80 333.2,74 335,69.4 337.5,68.5 340,71 344.4,77.5 349.8,83 355.3,85.5 361.9,86.3 367.4,85.8 371.7,83.6 376.1,84.5 381.6,87.4 386,92.8 392.5,103.8 398,112.5 404.6,118 410,121.5 416.6,123.5 423.2,124.6 429.7,125.2 436.3,129 441.8,132.6 447.2,134 452.7,134 456,136.6 461.4,142.7 465.8,143.6 470.2,145.3 475,155 480,165 485,172.5 491.25,180 497.5,187 505,192.5 512.5,197.5 520,202.5 526.25,205.5 531,206.3 533,208.5 536,209.2 538,207.3 540.3,209 542.5,207.3 544.5,209 548,209.2 550,207 555,206.25 561.25,201.25 566.25,193.75 571.25,187 575,191.25 580,202.5 585,213.75 590,222.5 595,226.25 600,228.5 605,229.5 611,229.5"/>
<polyline class="t" points="44.5,288.5 60.3,288.5 63.4,290.4 71.25,291 76,294 79,300.4 81.25,309.75 83.75,327 86.25,316 88.4,303.5 91.6,297.25 96.25,293.5 102.5,291.6 108.75,289.4 120,288.7 176,288.7 186.9,291 193,295.7 197.8,303.5 201,313 202.5,319 205.6,308 208.75,298.8 213.4,293.5 219.7,291 227.5,290.4 238.75,289.4 257.5,290 266.9,290.4 273,292.6 277.8,297.25 282.5,308.2 287.2,325.4 290.3,339.4 293.4,356 296.6,341 299.7,330 302.8,325.5 306.4,331.8 310,338.2 312.7,330 317.3,315.5 321.8,307.3 323.6,317.3 325.5,326.4 326.2,376 327,332 327.5,379.2 328.5,338 329.2,372 331.5,335 332.5,366 333.5,340 334.5,368 335.5,368 336,322 337.2,312 338.5,306 341.8,301.8 347.3,298.7 351.25,297.9 357.5,298.8 366.9,302 373,308.2 379.4,314.4 384,308.2 390.3,300.4 398.1,297.25 407.5,296.6 410.8,298.8 421.6,302.4 432.4,306 441.4,307.8 448.6,309.6 452.2,315 455.8,322.2 457.6,324 461.2,316.8 464,324 466.5,345.5 468.3,347.3 470.1,334.7 472,316.8 473.7,306 477.3,299.5 484.5,295.2 493.5,293.4 507.9,291.6 525.9,290.9 543.9,290 561.9,289.8 583.5,288.7 605,288.2 611,288.2"/>
<path d="M165.5,229 V245.5 M160.3,245.5 H171.5"/>
<path d="M163.5,251.5 L165.5,249.5 L165.5,261.5 M163.5,261.5 L167.5,261.5"/>
<polygon class="m" points="165.9,289.9 160.2,305.1 171.6,305.1"/><path d="M163.5,309.5 L165.5,307.5 L165.5,319.5 M163.5,319.5 L167.5,319.5"/>
<polygon class="m" points="222.6,221.8 216.9,237.0 228.3,237.0"/><path d="M219.5,242.5 L221.5,240.5 L221.5,239.5 L224.5,239.5 L225.5,241.5 L225.5,243.5 L219.5,250.5 L219.5,251.5 L226.5,251.5"/>
<polygon class="m" points="222.6,290.6 216.9,305.8 228.3,305.8"/><path d="M219.5,311.5 L221.5,309.5 L221.5,308.5 L224.5,308.5 L225.5,310.5 L225.5,312.5 L219.5,319.5 L219.5,320.5 L226.5,320.5"/>
<polygon class="m" points="324.7,48.7 319.0,63.9 330.4,63.9"/><path d="M322.5,66.5 L327.5,66.5 L324.5,71.5 L326.5,71.5 L327.5,72.5 L327.5,77.5 L326.5,78.5 L322.5,78.5 L321.5,77.5"/>
<polygon class="m" points="324.7,319.2 319.0,334.4 330.4,334.4"/><path d="M322.5,336.5 L327.5,336.5 L324.5,341.5 L326.5,341.5 L327.5,342.5 L327.5,347.5 L326.5,348.5 L322.5,348.5 L321.5,347.5"/>
<polygon class="m" points="327.5,46.1 321.7,31.3 333.3,31.3"/><path d="M324.5,16.5 L324.5,23.5 L331.5,23.5 M329.5,17.5 L329.5,28.5"/>
<polygon class="m" points="327.5,380.2 321.8,395.4 333.2,395.4"/><path d="M324.5,397.5 L324.5,404.5 L331.5,404.5 M329.5,398.5 L329.5,409.5"/>
<polygon class="m" points="330.3,105.5 324.6,120.7 336.0,120.7"/><path d="M333.5,123.5 L327.5,123.5 L327.5,128.5 L332.5,128.5 L333.5,129.5 L333.5,134.5 L332.5,135.5 L328.5,135.5 L327.5,134.5"/>
<polygon class="m" points="330.3,331.1 324.6,346.3 336.0,346.3"/><path d="M333.5,348.5 L327.5,348.5 L327.5,353.5 L332.5,353.5 L333.5,354.5 L333.5,359.5 L332.5,360.5 L328.5,360.5 L327.5,359.5"/>
<polygon class="m" points="358.7,87.3 353.0,102.5 364.4,102.5"/><path d="M359.5,104.5 L356.5,108.5 L355.5,109.5 L355.5,115.5 L357.5,116.5 L360.5,116.5 L361.5,115.5 L361.5,112.5 L360.5,110.5 L355.5,110.5"/>
<polygon class="m" points="358.7,301.0 353.0,316.2 364.4,316.2"/><path d="M359.5,318.5 L356.5,322.5 L355.5,323.5 L355.5,329.5 L357.5,330.5 L360.5,330.5 L361.5,329.5 L361.5,326.5 L360.5,324.5 L355.5,324.5"/>
<polygon class="m" points="409.7,121.2 404.0,136.4 415.4,136.4"/><path d="M406.5,138.5 L412.5,138.5 L412.5,139.5 L409.5,150.5"/>
<polygon class="m" points="409.7,298.6 404.0,313.8 415.4,313.8"/><path d="M406.5,316.5 L412.5,316.5 L412.5,317.5 L409.5,328.5"/>
<polygon class="m" points="540.1,210.0 534.4,225.2 545.8,225.2"/><path d="M539.5,227.5 L541.5,227.5 L542.5,229.5 L542.5,231.5 L541.5,232.5 L538.5,232.5 L537.5,231.5 L537.5,229.5 L539.5,227.5 M538.5,232.5 L537.5,234.5 L537.5,238.5 L538.5,239.5 L541.5,239.5 L543.5,238.5 L543.5,234.5 L541.5,232.5"/>
<polygon class="m" points="540.1,288.9 534.3,274.1 545.9,274.1"/><path d="M539.5,258.5 L541.5,258.5 L542.5,260.5 L542.5,262.5 L541.5,263.5 L538.5,263.5 L537.5,262.5 L537.5,260.5 L539.5,258.5 M538.5,263.5 L537.5,265.5 L537.5,269.5 L538.5,270.5 L541.5,270.5 L543.5,269.5 L543.5,265.5 L541.5,263.5"/>
<path d="M615.5,225.5 L617.5,223.5 L617.5,234.5 M615.5,234.5 L619.5,234.5"/>
<path d="M614.5,286.5 L616.5,284.5 L616.5,283.5 L619.5,283.5 L620.5,285.5 L620.5,287.5 L614.5,294.5 L614.5,295.5 L621.5,295.5"/>
<path class="g" d="M44.5,493.5 H610.5 V657.5 H44.5 Z M320.5,493.5 V657.5 M44.5,514.5 H610.5"/>
<path d="M47.5,499.5 L49.5,497.5 L49.5,509.5 M47.5,509.5 L51.5,509.5 M66.5,509.5 L66.5,497.5 L69.5,504.5 L72.5,497.5 L72.5,509.5 M77.5,497.5 L77.5,509.5 M82.5,502.5 L77.5,506.5 M79.5,505.5 L83.5,509.5 M87.5,502.5 L87.5,509.5 M87.5,504.5 L88.5,502.5 L93.5,502.5 L93.5,503.5 M112.5,498.5 L109.5,500.5 L109.5,507.5 L112.5,509.5 M118.5,509.5 L118.5,497.5 L121.5,504.5 L124.5,497.5 L124.5,509.5 M128.5,497.5 L128.5,509.5 M134.5,497.5 L134.5,509.5 M128.5,503.5 L134.5,503.5 M138.5,502.5 L144.5,502.5 L138.5,509.5 L145.5,509.5 M150.5,498.5 L152.5,500.5 L152.5,507.5 L150.5,509.5"/><rect class="f" x="56.9" y="500.8" width="2.2" height="2.5"/><rect class="f" x="56.9" y="507.8" width="2.2" height="2.5"/>
<path d="M206.5,497.5 L206.5,509.5 L200.5,509.5 L200.5,503.5 L201.5,502.5 L206.5,502.5 M210.5,497.5 L215.5,497.5 L216.5,498.5 L216.5,502.5 L215.5,503.5 L211.5,503.5 M215.5,503.5 L216.5,504.5 L216.5,508.5 L215.5,509.5 L210.5,509.5 M211.5,497.5 L211.5,509.5"/>
<path d="M329.5,500.5 L331.5,498.5 L331.5,497.5 L334.5,497.5 L335.5,499.5 L335.5,501.5 L329.5,508.5 L329.5,509.5 L336.5,509.5 M350.5,509.5 L350.5,497.5 L353.5,504.5 L356.5,497.5 L356.5,509.5 M360.5,497.5 L360.5,509.5 M365.5,502.5 L360.5,506.5 M362.5,505.5 L366.5,509.5 M370.5,502.5 L370.5,509.5 M370.5,504.5 L372.5,502.5 L376.5,502.5 L377.5,503.5 M395.5,498.5 L393.5,500.5 L393.5,507.5 L395.5,509.5 M401.5,509.5 L401.5,497.5 L404.5,504.5 L407.5,497.5 L407.5,509.5 M411.5,497.5 L411.5,509.5 M417.5,497.5 L417.5,509.5 M411.5,503.5 L417.5,503.5 M421.5,502.5 L427.5,502.5 L421.5,509.5 L428.5,509.5 M433.5,498.5 L436.5,500.5 L436.5,507.5 L433.5,509.5"/><rect class="f" x="339.9" y="500.8" width="2.2" height="2.5"/><rect class="f" x="339.9" y="507.8" width="2.2" height="2.5"/>
<path d="M489.5,497.5 L489.5,509.5 L483.5,509.5 L483.5,503.5 L484.5,502.5 L489.5,502.5 M493.5,497.5 L498.5,497.5 L499.5,498.5 L499.5,502.5 L498.5,503.5 L495.5,503.5 M498.5,503.5 L499.5,504.5 L499.5,508.5 L498.5,509.5 L493.5,509.5 M495.5,497.5 L495.5,509.5"/>
<path d="M46.5,518.5 L48.5,516.5 L48.5,528.5 M46.5,528.5 L50.5,528.5"/><rect class="f" x="55.9" y="519.8" width="2.2" height="2.5"/><rect class="f" x="55.9" y="525.8" width="2.2" height="2.5"/>
<path d="M99.5,516.5 L102.5,516.5 L103.5,518.5 L103.5,520.5 L102.5,521.5 L99.5,521.5 L98.5,520.5 L98.5,518.5 L99.5,516.5 M99.5,521.5 L97.5,523.5 L97.5,527.5 L99.5,528.5 L102.5,528.5 L103.5,527.5 L103.5,523.5 L102.5,521.5 M109.5,516.5 L112.5,516.5 L113.5,518.5 L113.5,520.5 L112.5,521.5 L109.5,521.5 L108.5,520.5 L108.5,518.5 L109.5,516.5 M109.5,521.5 L107.5,523.5 L107.5,527.5 L109.5,528.5 L112.5,528.5 L113.5,527.5 L113.5,523.5 L112.5,521.5 M129.5,516.5 L134.5,516.5 L134.5,527.5 L133.5,528.5 L128.5,528.5 L128.5,518.5 L129.5,516.5 M140.5,516.5 L144.5,516.5 L144.5,527.5 L143.5,528.5 L138.5,528.5 L138.5,518.5 L140.5,516.5"/><path class="k" d="M128.5,527.5 L133.5,517.5 M139.5,527.5 L144.5,517.5"/><rect class="f" x="119.9" y="525.8" width="2.2" height="2.5"/>
<path d="M179.5,522.5 L185.5,522.5 M195.5,521.5 L194.5,522.5 L191.5,522.5 L189.5,521.5 L189.5,518.5 L191.5,516.5 L194.5,516.5 L195.5,518.5 L195.5,523.5 L193.5,528.5 M202.5,516.5 L204.5,516.5 L205.5,518.5 L205.5,520.5 L204.5,521.5 L201.5,521.5 L200.5,520.5 L200.5,518.5 L202.5,516.5 M201.5,521.5 L200.5,523.5 L200.5,527.5 L201.5,528.5 L204.5,528.5 L206.5,527.5 L206.5,523.5 L204.5,521.5 M221.5,516.5 L226.5,516.5 L223.5,521.5 L225.5,521.5 L226.5,522.5 L226.5,527.5 L225.5,528.5 L221.5,528.5 L220.5,527.5 M236.5,521.5 L235.5,522.5 L232.5,522.5 L230.5,521.5 L230.5,518.5 L232.5,516.5 L235.5,516.5 L236.5,518.5 L236.5,523.5 L234.5,528.5"/><rect class="f" x="211.9" y="525.8" width="2.2" height="2.5"/>
<path d="M330.5,518.5 L332.5,516.5 L332.5,528.5 M330.5,528.5 L334.5,528.5"/><rect class="f" x="339.9" y="519.8" width="2.2" height="2.5"/><rect class="f" x="339.9" y="525.8" width="2.2" height="2.5"/>
<path d="M382.5,516.5 L385.5,516.5 L386.5,518.5 L386.5,520.5 L385.5,521.5 L382.5,521.5 L381.5,520.5 L381.5,518.5 L382.5,516.5 M382.5,521.5 L380.5,523.5 L380.5,527.5 L382.5,528.5 L385.5,528.5 L386.5,527.5 L386.5,523.5 L385.5,521.5 M393.5,516.5 L395.5,516.5 L396.5,518.5 L396.5,520.5 L395.5,521.5 L392.5,521.5 L391.5,520.5 L391.5,518.5 L393.5,516.5 M392.5,521.5 L391.5,523.5 L391.5,527.5 L392.5,528.5 L395.5,528.5 L397.5,527.5 L397.5,523.5 L395.5,521.5 M413.5,516.5 L417.5,516.5 L417.5,527.5 L416.5,528.5 L411.5,528.5 L411.5,518.5 L413.5,516.5 M423.5,516.5 L427.5,516.5 L427.5,527.5 L426.5,528.5 L421.5,528.5 L421.5,518.5 L423.5,516.5"/><path class="k" d="M412.5,527.5 L417.5,517.5 M422.5,527.5 L427.5,517.5"/><rect class="f" x="402.9" y="525.8" width="2.2" height="2.5"/>
<path d="M473.5,522.5 L479.5,522.5 M485.5,516.5 L489.5,516.5 L489.5,527.5 L488.5,528.5 L483.5,528.5 L483.5,518.5 L485.5,516.5 M505.5,518.5 L507.5,516.5 L507.5,528.5 M505.5,528.5 L509.5,528.5 M515.5,516.5 L520.5,516.5 L520.5,527.5 L519.5,528.5 L514.5,528.5 L514.5,518.5 L515.5,516.5"/><path class="k" d="M484.5,527.5 L489.5,517.5 M514.5,527.5 L519.5,517.5"/><rect class="f" x="494.9" y="525.8" width="2.2" height="2.5"/>
<path d="M45.5,537.5 L46.5,535.5 L47.5,534.5 L49.5,534.5 L51.5,536.5 L51.5,538.5 L45.5,545.5 L45.5,546.5 L51.5,546.5"/><rect class="f" x="55.9" y="537.8" width="2.2" height="2.5"/><rect class="f" x="55.9" y="543.8" width="2.2" height="2.5"/>
<path d="M88.5,536.5 L90.5,534.5 L90.5,546.5 M88.5,546.5 L92.5,546.5 M99.5,534.5 L103.5,534.5 L103.5,545.5 L102.5,546.5 L97.5,546.5 L97.5,536.5 L99.5,534.5 M109.5,534.5 L112.5,534.5 L113.5,536.5 L113.5,538.5 L112.5,539.5 L109.5,539.5 L108.5,538.5 L108.5,536.5 L109.5,534.5 M109.5,539.5 L107.5,541.5 L107.5,545.5 L109.5,546.5 L112.5,546.5 L113.5,545.5 L113.5,541.5 L112.5,539.5 M129.5,534.5 L134.5,534.5 L134.5,545.5 L133.5,546.5 L128.5,546.5 L128.5,536.5 L129.5,534.5 M140.5,534.5 L144.5,534.5 L144.5,545.5 L143.5,546.5 L138.5,546.5 L138.5,536.5 L140.5,534.5"/><path class="k" d="M98.5,545.5 L103.5,535.5 M128.5,545.5 L133.5,535.5 M139.5,545.5 L144.5,535.5"/><rect class="f" x="119.9" y="543.8" width="2.2" height="2.5"/>
<path d="M179.5,540.5 L185.5,540.5 M191.5,534.5 L194.5,534.5 L195.5,536.5 L195.5,538.5 L194.5,539.5 L191.5,539.5 L190.5,538.5 L190.5,536.5 L191.5,534.5 M191.5,539.5 L189.5,541.5 L189.5,545.5 L191.5,546.5 L194.5,546.5 L195.5,545.5 L195.5,541.5 L194.5,539.5 M204.5,534.5 L200.5,538.5 L200.5,539.5 L200.5,545.5 L201.5,546.5 L204.5,546.5 L206.5,545.5 L206.5,542.5 L204.5,540.5 L200.5,540.5 M226.5,539.5 L225.5,540.5 L222.5,540.5 L220.5,539.5 L220.5,536.5 L222.5,534.5 L225.5,534.5 L226.5,536.5 L226.5,541.5 L224.5,546.5 M232.5,534.5 L235.5,534.5 L236.5,536.5 L236.5,538.5 L235.5,539.5 L232.5,539.5 L231.5,538.5 L231.5,536.5 L232.5,534.5 M232.5,539.5 L230.5,541.5 L230.5,545.5 L232.5,546.5 L235.5,546.5 L236.5,545.5 L236.5,541.5 L235.5,539.5"/><rect class="f" x="211.9" y="543.8" width="2.2" height="2.5"/>
<path d="M329.5,537.5 L331.5,535.5 L331.5,534.5 L334.5,534.5 L335.5,536.5 L335.5,538.5 L329.5,545.5 L329.5,546.5 L336.5,546.5"/><rect class="f" x="339.9" y="537.8" width="2.2" height="2.5"/><rect class="f" x="339.9" y="543.8" width="2.2" height="2.5"/>
<path d="M371.5,536.5 L373.5,534.5 L373.5,546.5 M371.5,546.5 L375.5,546.5 M382.5,534.5 L386.5,534.5 L386.5,545.5 L385.5,546.5 L380.5,546.5 L380.5,536.5 L382.5,534.5 M393.5,534.5 L395.5,534.5 L396.5,536.5 L396.5,538.5 L395.5,539.5 L392.5,539.5 L391.5,538.5 L391.5,536.5 L393.5,534.5 M392.5,539.5 L391.5,541.5 L391.5,545.5 L392.5,546.5 L395.5,546.5 L397.5,545.5 L397.5,541.5 L395.5,539.5 M413.5,534.5 L417.5,534.5 L417.5,545.5 L416.5,546.5 L411.5,546.5 L411.5,536.5 L413.5,534.5 M423.5,534.5 L427.5,534.5 L427.5,545.5 L426.5,546.5 L421.5,546.5 L421.5,536.5 L423.5,534.5"/><path class="k" d="M381.5,545.5 L386.5,535.5 M412.5,545.5 L417.5,535.5 M422.5,545.5 L427.5,535.5"/><rect class="f" x="402.9" y="543.8" width="2.2" height="2.5"/>
<path d="M473.5,540.5 L479.5,540.5 M485.5,534.5 L489.5,534.5 L489.5,545.5 L488.5,546.5 L483.5,546.5 L483.5,536.5 L485.5,534.5 M504.5,537.5 L505.5,535.5 L506.5,534.5 L508.5,534.5 L510.5,536.5 L510.5,538.5 L504.5,545.5 L504.5,546.5 L510.5,546.5 M516.5,534.5 L518.5,534.5 L519.5,536.5 L519.5,538.5 L518.5,539.5 L515.5,539.5 L514.5,538.5 L514.5,536.5 L516.5,534.5 M515.5,539.5 L514.5,541.5 L514.5,545.5 L515.5,546.5 L518.5,546.5 L520.5,545.5 L520.5,541.5 L518.5,539.5"/><path class="k" d="M484.5,545.5 L489.5,535.5"/><rect class="f" x="494.9" y="543.8" width="2.2" height="2.5"/>
<path d="M46.5,552.5 L51.5,552.5 L48.5,557.5 L50.5,557.5 L51.5,558.5 L51.5,563.5 L50.5,564.5 L46.5,564.5 L45.5,563.5"/><rect class="f" x="55.9" y="555.8" width="2.2" height="2.5"/><rect class="f" x="55.9" y="561.8" width="2.2" height="2.5"/>
<path d="M88.5,554.5 L90.5,552.5 L90.5,564.5 M88.5,564.5 L92.5,564.5 M97.5,552.5 L97.5,559.5 L104.5,559.5 M102.5,553.5 L102.5,564.5 M107.5,552.5 L107.5,559.5 L114.5,559.5 M112.5,553.5 L112.5,564.5 M129.5,552.5 L134.5,552.5 L134.5,563.5 L133.5,564.5 L128.5,564.5 L128.5,554.5 L129.5,552.5 M140.5,552.5 L144.5,552.5 L144.5,563.5 L143.5,564.5 L138.5,564.5 L138.5,554.5 L140.5,552.5"/><path class="k" d="M128.5,563.5 L133.5,553.5 M139.5,563.5 L144.5,553.5"/><rect class="f" x="119.9" y="561.8" width="2.2" height="2.5"/>
<path d="M189.5,558.5 L195.5,558.5 M200.5,555.5 L201.5,553.5 L202.5,552.5 L204.5,552.5 L206.5,554.5 L206.5,556.5 L200.5,563.5 L200.5,564.5 L206.5,564.5 M226.5,552.5 L220.5,552.5 L220.5,557.5 L225.5,557.5 L226.5,558.5 L226.5,563.5 L225.5,564.5 L221.5,564.5 L220.5,563.5 M230.5,552.5 L230.5,559.5 L237.5,559.5 M235.5,553.5 L235.5,564.5"/><rect class="f" x="211.9" y="561.8" width="2.2" height="2.5"/>
<path d="M330.5,552.5 L335.5,552.5 L332.5,557.5 L334.5,557.5 L335.5,558.5 L335.5,563.5 L334.5,564.5 L330.5,564.5 L329.5,563.5"/><rect class="f" x="339.9" y="555.8" width="2.2" height="2.5"/><rect class="f" x="339.9" y="561.8" width="2.2" height="2.5"/>
<path d="M371.5,554.5 L373.5,552.5 L373.5,564.5 M371.5,564.5 L375.5,564.5 M380.5,552.5 L380.5,559.5 L387.5,559.5 M385.5,553.5 L385.5,564.5 M391.5,552.5 L391.5,559.5 L397.5,559.5 M395.5,553.5 L395.5,564.5 M413.5,552.5 L417.5,552.5 L417.5,563.5 L416.5,564.5 L411.5,564.5 L411.5,554.5 L413.5,552.5 M423.5,552.5 L427.5,552.5 L427.5,563.5 L426.5,564.5 L421.5,564.5 L421.5,554.5 L423.5,552.5"/><path class="k" d="M412.5,563.5 L417.5,553.5 M422.5,563.5 L427.5,553.5"/><rect class="f" x="402.9" y="561.8" width="2.2" height="2.5"/>
<path d="M473.5,558.5 L479.5,558.5 M483.5,552.5 L489.5,552.5 L489.5,553.5 L486.5,564.5 M504.5,555.5 L505.5,553.5 L506.5,552.5 L508.5,552.5 L510.5,554.5 L510.5,556.5 L504.5,563.5 L504.5,564.5 L510.5,564.5 M520.5,552.5 L514.5,552.5 L514.5,557.5 L519.5,557.5 L520.5,558.5 L520.5,563.5 L519.5,564.5 L515.5,564.5 L514.5,563.5"/><rect class="f" x="494.9" y="561.8" width="2.2" height="2.5"/>
<path d="M45.5,570.5 L45.5,577.5 L51.5,577.5 M49.5,571.5 L49.5,582.5 M56.5,574.5 L60.5,578.5 L56.5,581.5"/>
<path d="M88.5,572.5 L90.5,570.5 L90.5,582.5 M88.5,582.5 L92.5,582.5 M97.5,570.5 L97.5,577.5 L104.5,577.5 M102.5,571.5 L102.5,582.5 M113.5,570.5 L107.5,570.5 L107.5,575.5 L112.5,575.5 L113.5,576.5 L113.5,581.5 L112.5,582.5 L108.5,582.5 L107.5,581.5 M129.5,570.5 L134.5,570.5 L134.5,581.5 L133.5,582.5 L128.5,582.5 L128.5,572.5 L129.5,570.5 M140.5,570.5 L144.5,570.5 L144.5,581.5 L143.5,582.5 L138.5,582.5 L138.5,572.5 L140.5,570.5"/><path class="k" d="M128.5,581.5 L133.5,571.5 M139.5,581.5 L144.5,571.5"/><rect class="f" x="119.9" y="579.8" width="2.2" height="2.5"/>
<path d="M189.5,576.5 L195.5,576.5 M200.5,573.5 L201.5,571.5 L202.5,570.5 L204.5,570.5 L206.5,572.5 L206.5,574.5 L200.5,581.5 L200.5,582.5 L206.5,582.5 M226.5,570.5 L220.5,570.5 L220.5,575.5 L225.5,575.5 L226.5,576.5 L226.5,581.5 L225.5,582.5 L221.5,582.5 L220.5,581.5 M232.5,570.5 L236.5,570.5 L236.5,581.5 L235.5,582.5 L230.5,582.5 L230.5,572.5 L232.5,570.5"/><path class="k" d="M231.5,581.5 L236.5,571.5"/><rect class="f" x="211.9" y="579.8" width="2.2" height="2.5"/>
<path d="M329.5,570.5 L329.5,577.5 L336.5,577.5 M334.5,571.5 L334.5,582.5"/><rect class="f" x="339.9" y="573.8" width="2.2" height="2.5"/><rect class="f" x="339.9" y="579.8" width="2.2" height="2.5"/>
<path d="M371.5,572.5 L373.5,570.5 L373.5,582.5 M371.5,582.5 L375.5,582.5 M380.5,570.5 L380.5,577.5 L387.5,577.5 M385.5,571.5 L385.5,582.5 M397.5,570.5 L391.5,570.5 L391.5,575.5 L396.5,575.5 L397.5,576.5 L397.5,581.5 L396.5,582.5 L392.5,582.5 L391.5,581.5 M413.5,570.5 L417.5,570.5 L417.5,581.5 L416.5,582.5 L411.5,582.5 L411.5,572.5 L413.5,570.5 M423.5,570.5 L427.5,570.5 L427.5,581.5 L426.5,582.5 L421.5,582.5 L421.5,572.5 L423.5,570.5"/><path class="k" d="M412.5,581.5 L417.5,571.5 M422.5,581.5 L427.5,571.5"/><rect class="f" x="402.9" y="579.8" width="2.2" height="2.5"/>
<path d="M462.5,576.5 L468.5,576.5 M473.5,573.5 L474.5,571.5 L475.5,570.5 L477.5,570.5 L479.5,572.5 L479.5,574.5 L473.5,581.5 L473.5,582.5 L479.5,582.5 M483.5,573.5 L485.5,571.5 L485.5,570.5 L488.5,570.5 L489.5,572.5 L489.5,574.5 L483.5,581.5 L483.5,582.5 L490.5,582.5 M505.5,572.5 L507.5,570.5 L507.5,582.5 M505.5,582.5 L509.5,582.5 M515.5,572.5 L517.5,570.5 L517.5,582.5 M515.5,582.5 L519.5,582.5"/><rect class="f" x="494.9" y="579.8" width="2.2" height="2.5"/>
<path d="M51.5,588.5 L45.5,588.5 L45.5,593.5 L50.5,593.5 L51.5,594.5 L51.5,599.5 L50.5,600.5 L46.5,600.5 L45.5,599.5"/><rect class="f" x="55.9" y="591.8" width="2.2" height="2.5"/><rect class="f" x="55.9" y="597.8" width="2.2" height="2.5"/>
<path d="M88.5,590.5 L90.5,588.5 L90.5,600.5 M88.5,600.5 L92.5,600.5 M97.5,588.5 L97.5,595.5 L104.5,595.5 M102.5,589.5 L102.5,600.5 M111.5,588.5 L108.5,592.5 L107.5,593.5 L107.5,599.5 L109.5,600.5 L112.5,600.5 L113.5,599.5 L113.5,596.5 L112.5,594.5 L107.5,594.5 M129.5,588.5 L134.5,588.5 L134.5,599.5 L133.5,600.5 L128.5,600.5 L128.5,590.5 L129.5,588.5 M140.5,588.5 L144.5,588.5 L144.5,599.5 L143.5,600.5 L138.5,600.5 L138.5,590.5 L140.5,588.5"/><path class="k" d="M128.5,599.5 L133.5,589.5 M139.5,599.5 L144.5,589.5"/><rect class="f" x="119.9" y="597.8" width="2.2" height="2.5"/>
<path d="M179.5,594.5 L185.5,594.5 M190.5,588.5 L195.5,588.5 L192.5,593.5 L194.5,593.5 L195.5,594.5 L195.5,599.5 L194.5,600.5 L190.5,600.5 L189.5,599.5 M201.5,588.5 L206.5,588.5 L206.5,599.5 L205.5,600.5 L200.5,600.5 L200.5,590.5 L201.5,588.5 M220.5,591.5 L222.5,589.5 L222.5,588.5 L225.5,588.5 L226.5,590.5 L226.5,592.5 L220.5,599.5 L220.5,600.5 L227.5,600.5 M231.5,588.5 L236.5,588.5 L233.5,593.5 L235.5,593.5 L236.5,594.5 L236.5,599.5 L235.5,600.5 L231.5,600.5 L230.5,599.5"/><path class="k" d="M200.5,599.5 L205.5,589.5"/><rect class="f" x="211.9" y="597.8" width="2.2" height="2.5"/>
<path d="M335.5,588.5 L329.5,588.5 L329.5,593.5 L334.5,593.5 L335.5,594.5 L335.5,599.5 L334.5,600.5 L330.5,600.5 L329.5,599.5"/><rect class="f" x="339.9" y="591.8" width="2.2" height="2.5"/><rect class="f" x="339.9" y="597.8" width="2.2" height="2.5"/>
<path d="M371.5,590.5 L373.5,588.5 L373.5,600.5 M371.5,600.5 L375.5,600.5 M380.5,588.5 L380.5,595.5 L387.5,595.5 M385.5,589.5 L385.5,600.5 M395.5,588.5 L391.5,592.5 L391.5,593.5 L391.5,599.5 L392.5,600.5 L395.5,600.5 L397.5,599.5 L397.5,596.5 L395.5,594.5 L391.5,594.5 M413.5,588.5 L417.5,588.5 L417.5,599.5 L416.5,600.5 L411.5,600.5 L411.5,590.5 L413.5,588.5 M423.5,588.5 L427.5,588.5 L427.5,599.5 L426.5,600.5 L421.5,600.5 L421.5,590.5 L423.5,588.5"/><path class="k" d="M412.5,599.5 L417.5,589.5 M422.5,599.5 L427.5,589.5"/><rect class="f" x="402.9" y="597.8" width="2.2" height="2.5"/>
<path d="M462.5,594.5 L468.5,594.5 M474.5,590.5 L476.5,588.5 L476.5,600.5 M474.5,600.5 L478.5,600.5 M485.5,588.5 L489.5,588.5 L489.5,599.5 L488.5,600.5 L483.5,600.5 L483.5,590.5 L485.5,588.5 M505.5,590.5 L507.5,588.5 L507.5,600.5 M505.5,600.5 L509.5,600.5 M520.5,588.5 L514.5,588.5 L514.5,593.5 L519.5,593.5 L520.5,594.5 L520.5,599.5 L519.5,600.5 L515.5,600.5 L514.5,599.5"/><path class="k" d="M484.5,599.5 L489.5,589.5"/><rect class="f" x="494.9" y="597.8" width="2.2" height="2.5"/>
<path d="M49.5,606.5 L45.5,610.5 L45.5,611.5 L45.5,617.5 L46.5,618.5 L49.5,618.5 L51.5,617.5 L51.5,614.5 L49.5,612.5 L45.5,612.5"/><rect class="f" x="55.9" y="609.8" width="2.2" height="2.5"/><rect class="f" x="55.9" y="615.8" width="2.2" height="2.5"/>
<path d="M88.5,608.5 L90.5,606.5 L90.5,618.5 M88.5,618.5 L92.5,618.5 M103.5,606.5 L97.5,606.5 L97.5,611.5 L102.5,611.5 L103.5,612.5 L103.5,617.5 L102.5,618.5 L98.5,618.5 L97.5,617.5 M111.5,606.5 L108.5,610.5 L107.5,611.5 L107.5,617.5 L109.5,618.5 L112.5,618.5 L113.5,617.5 L113.5,614.5 L112.5,612.5 L107.5,612.5 M129.5,606.5 L134.5,606.5 L134.5,617.5 L133.5,618.5 L128.5,618.5 L128.5,608.5 L129.5,606.5 M140.5,606.5 L144.5,606.5 L144.5,617.5 L143.5,618.5 L138.5,618.5 L138.5,608.5 L140.5,606.5"/><path class="k" d="M128.5,617.5 L133.5,607.5 M139.5,617.5 L144.5,607.5"/><rect class="f" x="119.9" y="615.8" width="2.2" height="2.5"/>
<path d="M179.5,612.5 L185.5,612.5 M189.5,609.5 L191.5,607.5 L191.5,606.5 L194.5,606.5 L195.5,608.5 L195.5,610.5 L189.5,617.5 L189.5,618.5 L196.5,618.5 M201.5,608.5 L203.5,606.5 L203.5,618.5 M201.5,618.5 L205.5,618.5 M221.5,606.5 L226.5,606.5 L223.5,611.5 L225.5,611.5 L226.5,612.5 L226.5,617.5 L225.5,618.5 L221.5,618.5 L220.5,617.5 M236.5,606.5 L230.5,606.5 L230.5,611.5 L235.5,611.5 L236.5,612.5 L236.5,617.5 L235.5,618.5 L231.5,618.5 L230.5,617.5"/><rect class="f" x="211.9" y="615.8" width="2.2" height="2.5"/>
<path d="M333.5,606.5 L330.5,610.5 L329.5,611.5 L329.5,617.5 L331.5,618.5 L334.5,618.5 L335.5,617.5 L335.5,614.5 L334.5,612.5 L329.5,612.5"/><rect class="f" x="339.9" y="609.8" width="2.2" height="2.5"/><rect class="f" x="339.9" y="615.8" width="2.2" height="2.5"/>
<path d="M371.5,608.5 L373.5,606.5 L373.5,618.5 M371.5,618.5 L375.5,618.5 M386.5,606.5 L380.5,606.5 L380.5,611.5 L385.5,611.5 L386.5,612.5 L386.5,617.5 L385.5,618.5 L381.5,618.5 L380.5,617.5 M395.5,606.5 L391.5,610.5 L391.5,611.5 L391.5,617.5 L392.5,618.5 L395.5,618.5 L397.5,617.5 L397.5,614.5 L395.5,612.5 L391.5,612.5 M413.5,606.5 L417.5,606.5 L417.5,617.5 L416.5,618.5 L411.5,618.5 L411.5,608.5 L413.5,606.5 M423.5,606.5 L427.5,606.5 L427.5,617.5 L426.5,618.5 L421.5,618.5 L421.5,608.5 L423.5,606.5"/><path class="k" d="M412.5,617.5 L417.5,607.5 M422.5,617.5 L427.5,607.5"/><rect class="f" x="402.9" y="615.8" width="2.2" height="2.5"/>
<path d="M473.5,612.5 L479.5,612.5 M483.5,609.5 L485.5,607.5 L485.5,606.5 L488.5,606.5 L489.5,608.5 L489.5,610.5 L483.5,617.5 L483.5,618.5 L490.5,618.5 M506.5,606.5 L508.5,606.5 L509.5,608.5 L509.5,610.5 L508.5,611.5 L505.5,611.5 L504.5,610.5 L504.5,608.5 L506.5,606.5 M505.5,611.5 L504.5,613.5 L504.5,617.5 L505.5,618.5 L508.5,618.5 L510.5,617.5 L510.5,613.5 L508.5,611.5 M515.5,608.5 L517.5,606.5 L517.5,618.5 M515.5,618.5 L519.5,618.5"/><rect class="f" x="494.9" y="615.8" width="2.2" height="2.5"/>
<path d="M45.5,624.5 L51.5,624.5 L51.5,625.5 L47.5,636.5"/><rect class="f" x="55.9" y="627.8" width="2.2" height="2.5"/><rect class="f" x="55.9" y="633.8" width="2.2" height="2.5"/>
<path d="M88.5,626.5 L90.5,624.5 L90.5,636.5 M88.5,636.5 L92.5,636.5 M97.5,624.5 L103.5,624.5 L103.5,625.5 L100.5,636.5 M107.5,624.5 L107.5,631.5 L114.5,631.5 M112.5,625.5 L112.5,636.5 M129.5,624.5 L134.5,624.5 L134.5,635.5 L133.5,636.5 L128.5,636.5 L128.5,626.5 L129.5,624.5 M140.5,624.5 L144.5,624.5 L144.5,635.5 L143.5,636.5 L138.5,636.5 L138.5,626.5 L140.5,624.5"/><path class="k" d="M128.5,635.5 L133.5,625.5 M139.5,635.5 L144.5,625.5"/><rect class="f" x="119.9" y="633.8" width="2.2" height="2.5"/>
<path d="M179.5,630.5 L185.5,630.5 M190.5,624.5 L195.5,624.5 L192.5,629.5 L194.5,629.5 L195.5,630.5 L195.5,635.5 L194.5,636.5 L190.5,636.5 L189.5,635.5 M200.5,624.5 L206.5,624.5 L206.5,625.5 L202.5,636.5 M222.5,624.5 L225.5,624.5 L226.5,626.5 L226.5,628.5 L225.5,629.5 L222.5,629.5 L221.5,628.5 L221.5,626.5 L222.5,624.5 M222.5,629.5 L220.5,631.5 L220.5,635.5 L222.5,636.5 L225.5,636.5 L226.5,635.5 L226.5,631.5 L225.5,629.5 M232.5,624.5 L235.5,624.5 L236.5,626.5 L236.5,628.5 L235.5,629.5 L232.5,629.5 L231.5,628.5 L231.5,626.5 L232.5,624.5 M232.5,629.5 L230.5,631.5 L230.5,635.5 L232.5,636.5 L235.5,636.5 L236.5,635.5 L236.5,631.5 L235.5,629.5"/><rect class="f" x="211.9" y="633.8" width="2.2" height="2.5"/>
<path d="M329.5,624.5 L335.5,624.5 L335.5,625.5 L332.5,636.5"/><rect class="f" x="339.9" y="627.8" width="2.2" height="2.5"/><rect class="f" x="339.9" y="633.8" width="2.2" height="2.5"/>
<path d="M371.5,626.5 L373.5,624.5 L373.5,636.5 M371.5,636.5 L375.5,636.5 M380.5,624.5 L386.5,624.5 L386.5,625.5 L383.5,636.5 M391.5,624.5 L391.5,631.5 L397.5,631.5 M395.5,625.5 L395.5,636.5 M413.5,624.5 L417.5,624.5 L417.5,635.5 L416.5,636.5 L411.5,636.5 L411.5,626.5 L413.5,624.5 M423.5,624.5 L427.5,624.5 L427.5,635.5 L426.5,636.5 L421.5,636.5 L421.5,626.5 L423.5,624.5"/><path class="k" d="M412.5,635.5 L417.5,625.5 M422.5,635.5 L427.5,625.5"/><rect class="f" x="402.9" y="633.8" width="2.2" height="2.5"/>
<path d="M473.5,630.5 L479.5,630.5 M483.5,627.5 L485.5,625.5 L485.5,624.5 L488.5,624.5 L489.5,626.5 L489.5,628.5 L483.5,635.5 L483.5,636.5 L490.5,636.5 M504.5,627.5 L505.5,625.5 L506.5,624.5 L508.5,624.5 L510.5,626.5 L510.5,628.5 L504.5,635.5 L504.5,636.5 L510.5,636.5 M515.5,626.5 L517.5,624.5 L517.5,636.5 M515.5,636.5 L519.5,636.5"/><rect class="f" x="494.9" y="633.8" width="2.2" height="2.5"/>
<path d="M47.5,642.5 L49.5,642.5 L50.5,644.5 L50.5,646.5 L49.5,647.5 L46.5,647.5 L45.5,646.5 L45.5,644.5 L47.5,642.5 M46.5,647.5 L45.5,649.5 L45.5,653.5 L46.5,654.5 L49.5,654.5 L51.5,653.5 L51.5,649.5 L49.5,647.5"/><rect class="f" x="55.9" y="645.8" width="2.2" height="2.5"/><rect class="f" x="55.9" y="651.8" width="2.2" height="2.5"/>
<path d="M87.5,645.5 L88.5,643.5 L89.5,642.5 L91.5,642.5 L93.5,644.5 L93.5,646.5 L87.5,653.5 L87.5,654.5 L93.5,654.5 M97.5,645.5 L99.5,643.5 L99.5,642.5 L102.5,642.5 L103.5,644.5 L103.5,646.5 L97.5,653.5 L97.5,654.5 L104.5,654.5 M109.5,642.5 L113.5,642.5 L113.5,653.5 L112.5,654.5 L107.5,654.5 L107.5,644.5 L109.5,642.5 M129.5,642.5 L134.5,642.5 L134.5,653.5 L133.5,654.5 L128.5,654.5 L128.5,644.5 L129.5,642.5 M140.5,642.5 L144.5,642.5 L144.5,653.5 L143.5,654.5 L138.5,654.5 L138.5,644.5 L140.5,642.5"/><path class="k" d="M108.5,653.5 L113.5,643.5 M128.5,653.5 L133.5,643.5 M139.5,653.5 L144.5,643.5"/><rect class="f" x="119.9" y="651.8" width="2.2" height="2.5"/>
<path d="M179.5,648.5 L185.5,648.5 M191.5,642.5 L194.5,642.5 L195.5,644.5 L195.5,646.5 L194.5,647.5 L191.5,647.5 L190.5,646.5 L190.5,644.5 L191.5,642.5 M191.5,647.5 L189.5,649.5 L189.5,653.5 L191.5,654.5 L194.5,654.5 L195.5,653.5 L195.5,649.5 L194.5,647.5 M201.5,644.5 L203.5,642.5 L203.5,654.5 M201.5,654.5 L205.5,654.5 M220.5,645.5 L222.5,643.5 L222.5,642.5 L225.5,642.5 L226.5,644.5 L226.5,646.5 L220.5,653.5 L220.5,654.5 L227.5,654.5 M231.5,644.5 L233.5,642.5 L233.5,654.5 M231.5,654.5 L235.5,654.5"/><rect class="f" x="211.9" y="651.8" width="2.2" height="2.5"/>
<path d="M331.5,642.5 L334.5,642.5 L335.5,644.5 L335.5,646.5 L334.5,647.5 L331.5,647.5 L330.5,646.5 L330.5,644.5 L331.5,642.5 M331.5,647.5 L329.5,649.5 L329.5,653.5 L331.5,654.5 L334.5,654.5 L335.5,653.5 L335.5,649.5 L334.5,647.5 M340.5,646.5 L345.5,650.5 L340.5,653.5"/>
<path d="M370.5,645.5 L372.5,643.5 L372.5,642.5 L375.5,642.5 L376.5,644.5 L376.5,646.5 L370.5,653.5 L370.5,654.5 L377.5,654.5 M380.5,645.5 L382.5,643.5 L382.5,642.5 L385.5,642.5 L386.5,644.5 L386.5,646.5 L380.5,653.5 L380.5,654.5 L387.5,654.5 M392.5,642.5 L397.5,642.5 L397.5,653.5 L396.5,654.5 L391.5,654.5 L391.5,644.5 L392.5,642.5 M413.5,642.5 L417.5,642.5 L417.5,653.5 L416.5,654.5 L411.5,654.5 L411.5,644.5 L413.5,642.5 M423.5,642.5 L427.5,642.5 L427.5,653.5 L426.5,654.5 L421.5,654.5 L421.5,644.5 L423.5,642.5"/><path class="k" d="M391.5,653.5 L396.5,643.5 M412.5,653.5 L417.5,643.5 M422.5,653.5 L427.5,643.5"/><rect class="f" x="402.9" y="651.8" width="2.2" height="2.5"/>
<path d="M473.5,648.5 L479.5,648.5 M485.5,642.5 L489.5,642.5 L489.5,653.5 L488.5,654.5 L483.5,654.5 L483.5,644.5 L485.5,642.5 M504.5,642.5 L504.5,649.5 L510.5,649.5 M508.5,643.5 L508.5,654.5 M514.5,642.5 L520.5,642.5 L520.5,643.5 L516.5,654.5"/><path class="k" d="M484.5,653.5 L489.5,643.5"/><rect class="f" x="494.9" y="651.8" width="2.2" height="2.5"/>
</svg></body></html>
